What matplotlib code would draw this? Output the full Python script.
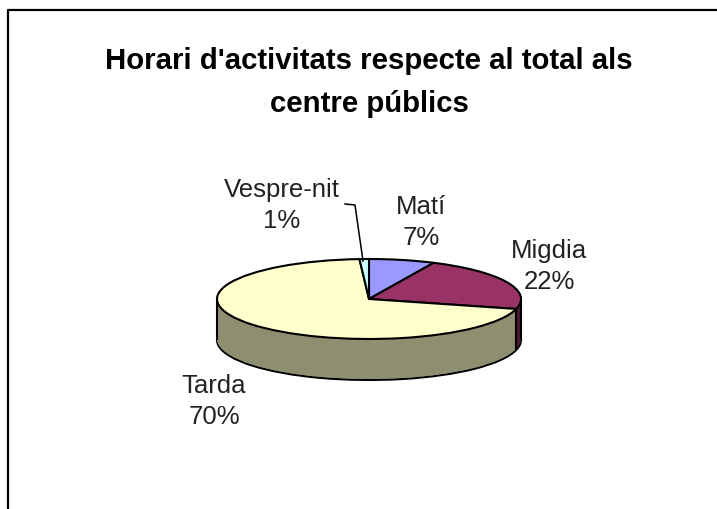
import numpy as np
import matplotlib
matplotlib.use("Agg")
import matplotlib.pyplot as plt
from matplotlib.lines import Line2D

plt.rcParams['font.family'] = ['Liberation Sans', 'DejaVu Sans']

title = "Horari d'activitats respecte al total als\ncentre públics"
categories = ["Matí", "Migdia", "Tarda", "Vespre-nit"]
values = [7, 22, 70, 1]
top_colors = ["#9999FF", "#993366", "#FFFFCC", "#CCFFFF"]
side_colors = ["#4D4D80", "#4D1A33", "#8E8E70", "#668080"]

W, H = 717, 510
CX, CY, RX, RY, DEPTH = 369, 300, 152, 40, 41
LW = 1.5

fig = plt.figure(figsize=(W / 100, H / 100), dpi=100, facecolor="white")
ax = fig.add_axes([0, 0, 1, 1])

def px(x, y):
    return (x / W, 1 - y / H)

d = DEPTH / RY
# side wall: stacked copies of the pie, lowered by the extrusion depth
for i, off in enumerate(np.linspace(d, 0, DEPTH + 1)):
    first = i == 0
    ax.pie(values, startangle=90, counterclock=False, colors=side_colors,
           center=(0, -off), radius=1,
           wedgeprops=dict(edgecolor="black" if first else "none",
                           linewidth=LW if first else 0))
# top face
ax.pie(values, startangle=90, counterclock=False, colors=top_colors,
       center=(0, 0), radius=1,
       wedgeprops=dict(edgecolor="black", linewidth=LW))

# vertical wall edges: both extremes and the Migdia/Tarda boundary
frac = np.cumsum(values) / np.sum(values)
theta = 2 * np.pi * frac[1]
bx, by = np.sin(theta), np.cos(theta)
ax.vlines([-1, 1], [-d, -d], [0, 0], color="black", lw=LW, zorder=1.5)
ax.vlines([bx], [by - d], [by], color="black", lw=LW, zorder=1.5)

ax.set_aspect("auto")
ax.set_xlim((0 - CX) / RX, (W - CX) / RX)
ax.set_ylim((CY - H) / RY, CY / RY)
ax.axis("off")

# chart frame (left and top only are visible in the crop)
fig.add_artist(Line2D([8 / W, 8 / W, 1], [0, 1 - 11 / H, 1 - 11 / H],
                      color="black", lw=1.6, transform=fig.transFigure))

fig.text(*px(369, 82.5), title, ha="center", va="center", fontsize=21.2,
         fontweight="bold", linespacing=1.72, color="black")

label_pos = [(421, 222.5), (549, 266.5), (214, 401.5), (282, 205.5)]
for name, val, pos in zip(categories, values, label_pos):
    fig.text(*px(*pos), f"{name}\n{val}%", ha="center", va="center",
             fontsize=18.5, linespacing=1.42, color="#222222")

# leader line for Vespre-nit
lx = [345, 355, 363]
ly = [205, 206, 262]
fig.add_artist(Line2D([v / W for v in lx], [1 - v / H for v in ly],
                      color="black", lw=1.1, transform=fig.transFigure))

fig.savefig("out.png", dpi=100, facecolor="white")
